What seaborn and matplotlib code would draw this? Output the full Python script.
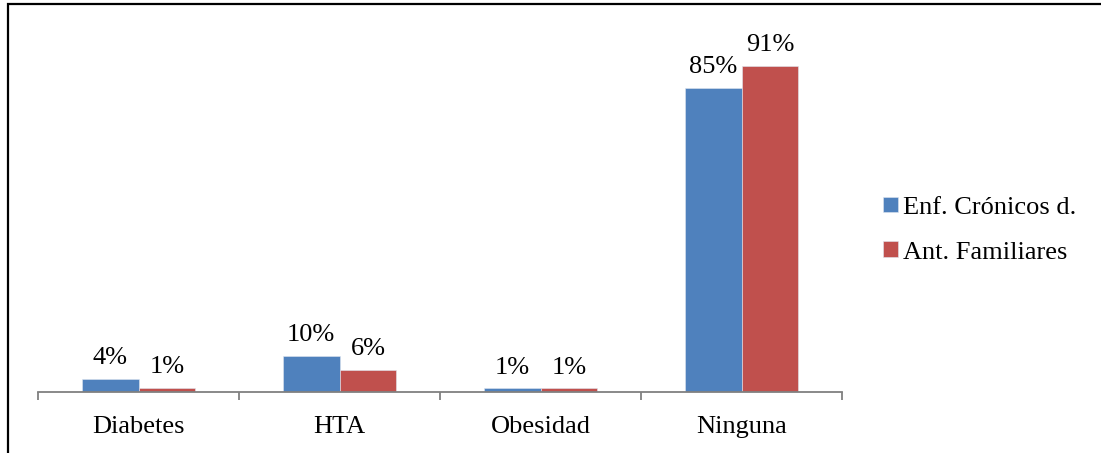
import pandas as pd
import matplotlib.pyplot as plt
import seaborn as sns
from matplotlib.patches import Rectangle

categorias = ['Diabetes', 'HTA', 'Obesidad', 'Ninguna']
series = ['Enf. Crónicos d.', 'Ant. Familiares']
enf_cronicos = [3.6, 10.0, 1.0, 85.0]
ant_familiares = [1.1, 6.1, 1.0, 91.0]
etiquetas_enf = ['4%', '10%', '1%', '85%']
etiquetas_ant = ['1%', '6%', '1%', '91%']
colores = ['#4F81BD', '#C0504D']

df = pd.DataFrame({
    'categoria': categorias * 2,
    'serie': [series[0]] * 4 + [series[1]] * 4,
    'valor': enf_cronicos + ant_familiares,
})

sns.set_style('white')
plt.rcParams['font.family'] = ['Liberation Serif', 'DejaVu Serif']
plt.rcParams['text.color'] = 'black'
plt.rcParams['xtick.color'] = 'black'

fig = plt.figure(figsize=(11.01, 4.53), dpi=100)
ax = fig.add_axes([38 / 1101, 61 / 453, (842 - 38) / 1101, 358 / 453])

sns.barplot(data=df, x='categoria', y='valor', hue='serie', palette=colores,
            saturation=1, width=0.567, ax=ax, edgecolor='#dfe6f0', linewidth=0.4)

for cont, etq in zip(ax.containers, [etiquetas_enf, etiquetas_ant]):
    ax.bar_label(cont, labels=etq, padding=7, fontsize=19, color='black')

ax.set_ylim(0, 100)
ax.set_xlim(-0.5, 3.5)
ax.set_xlabel('')
ax.set_ylabel('')
ax.set_yticks([])

# ticks at the category boundaries, labels at the centres
ax.set_xticks([-0.5, 0.5, 1.5, 2.5, 3.5], minor=True)
ax.tick_params(axis='x', which='minor', bottom=True, length=6, width=1.3,
               color='#808080', direction='out')
ax.tick_params(axis='x', which='major', length=0, labelsize=19, pad=17,
               labelcolor='black')

for s in ['top', 'right', 'left']:
    ax.spines[s].set_visible(False)
ax.spines['bottom'].set_color('#808080')
ax.spines['bottom'].set_linewidth(1.3)

leg = ax.legend(loc='center left', bbox_to_anchor=(1.022, 0.4525), frameon=False,
                fontsize=19, handlelength=0.55, handleheight=0.55,
                handletextpad=0.2, labelspacing=0.85)
for t in leg.get_texts():
    t.set_color('black')

# outer frame of the chart
fig.patches.append(Rectangle((8 / 1101, -0.1), 1.2, (453 - 4) / 453 + 0.1,
                             transform=fig.transFigure, fill=False,
                             edgecolor='black', linewidth=1.6))

fig.savefig('out.png', dpi=100)
